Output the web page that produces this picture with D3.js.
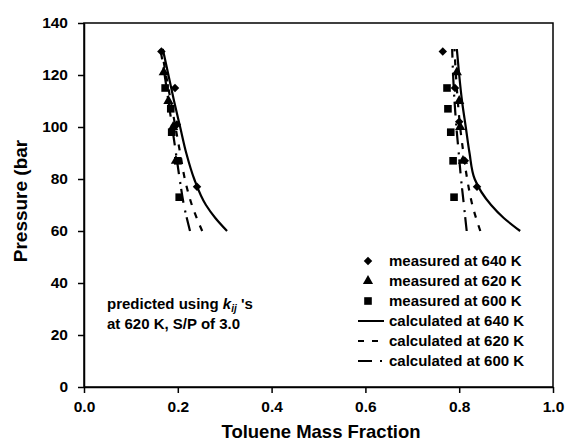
<!DOCTYPE html>
<html>
<head>
<meta charset="utf-8">
<script src="https://cdn.jsdelivr.net/npm/d3@7"></script>
<style>
  body { margin: 0; background: #fff; }
  svg { display: block; font-family: "Liberation Sans", Arial, sans-serif; font-weight: bold; }
  .axis path, .axis line { stroke: #000; stroke-width: 1.5; }
  .axis text { font-size: 15.5px; font-weight: bold; fill: #000; }
</style>
</head>
<body>
<svg id="chart"></svg>
<script>
// x ticks / y ticks
const xTicks = [0, 0.2, 0.4, 0.6, 0.8, 1.0];
const yTicks = [0, 20, 40, 60, 80, 100, 120, 140];

// measured points [mass fraction, pressure]
const meas640 = [[0.165, 129], [0.194, 115], [0.198, 101], [0.241, 77],
                 [0.765, 129], [0.791, 115], [0.800, 102], [0.812, 87], [0.838, 77]];
const meas620 = [[0.170, 121], [0.180, 110], [0.190, 100], [0.196, 87],
                 [0.795, 121], [0.800, 110], [0.802, 100], [0.808, 87]];
const meas600 = [[0.173, 115], [0.185, 107], [0.187, 98], [0.200, 87], [0.203, 73],
                 [0.774, 115], [0.776, 107], [0.782, 98], [0.787, 87], [0.789, 73]];

// calculated curves, two branches each
const calc640 = [
  [[0.168, 130], [0.180, 120], [0.192, 110], [0.205, 100], [0.218, 90], [0.235, 80], [0.260, 70], [0.280, 65], [0.305, 60]],
  [[0.795, 130], [0.800, 120], [0.806, 110], [0.814, 100], [0.822, 90], [0.833, 80], [0.868, 70], [0.895, 65], [0.930, 60]]
];
const calc620 = [
  [[0.165, 130], [0.175, 120], [0.185, 110], [0.195, 100], [0.205, 90], [0.215, 80], [0.230, 70], [0.252, 60]],
  [[0.790, 130], [0.793, 120], [0.797, 110], [0.802, 100], [0.809, 90], [0.817, 80], [0.828, 70], [0.845, 60]]
];
const calc600 = [
  [[0.163, 130], [0.172, 120], [0.180, 110], [0.188, 100], [0.196, 90], [0.204, 80], [0.213, 70], [0.226, 60]],
  [[0.785, 130], [0.787, 120], [0.790, 110], [0.794, 100], [0.799, 90], [0.804, 80], [0.810, 70], [0.816, 60]]
];

const legendItems = [
  {label: "measured at 640 K", type: "diamond"},
  {label: "measured at 620 K", type: "triangle"},
  {label: "measured at 600 K", type: "square"},
  {label: "calculated at 640 K", type: "line", dash: null},
  {label: "calculated at 620 K", type: "line", dash: "6,8"},
  {label: "calculated at 600 K", type: "line", dash: "14,8,2,20"}
];

const W = 568, H = 441;
const margin = {top: 23, left: 84};
const width = 469, height = 364;

const svg = d3.select("#chart").attr("width", W).attr("height", H);
const g = svg.append("g").attr("transform", `translate(${margin.left},${margin.top})`);

const x = d3.scaleLinear().domain([0, 1]).range([0, width]);
const y = d3.scaleLinear().domain([0, 140]).range([height, 0]);

// frame
g.append("rect")
  .attr("width", width).attr("height", height)
  .attr("fill", "none").attr("stroke", "#000").attr("stroke-width", 1.5);

g.append("g").attr("class", "axis")
  .attr("transform", `translate(0,${height})`)
  .call(d3.axisBottom(x).tickValues(xTicks).tickFormat(d3.format(".1f")).tickSize(6).tickSizeOuter(0).tickPadding(8));

g.append("g").attr("class", "axis")
  .call(d3.axisLeft(y).tickValues(yTicks).tickSize(6).tickSizeOuter(0).tickPadding(10));

g.selectAll(".axis text").attr("font-family", null);

// axis titles
svg.append("text")
  .attr("x", 321).attr("y", 438)
  .attr("text-anchor", "middle").style("font-size", "18.5px")
  .text("Toluene Mass Fraction");

svg.append("text")
  .attr("transform", "translate(27,201) rotate(-90)")
  .attr("text-anchor", "middle").style("font-size", "19px")
  .text("Pressure (bar");

// curves
const line = d3.line().x(d => x(d[0])).y(d => y(d[1])).curve(d3.curveMonotoneY);
const curves = [
  {data: calc640, dash: null},
  {data: calc620, dash: "6,8"},
  {data: calc600, dash: "14,5,2,8"}
];
curves.forEach(c => {
  c.data.forEach(branch => {
    g.append("path")
      .datum(branch.slice().sort((a, b) => a[1] - b[1]))
      .attr("d", line)
      .attr("fill", "none").attr("stroke", "#000").attr("stroke-width", 2.2)
      .attr("stroke-dasharray", c.dash);
  });
});

// markers
const sym = {
  diamond: d3.symbol().type(d3.symbolSquare).size(36),
  triangle: d3.symbol().type(d3.symbolTriangle).size(45),
  square: d3.symbol().type(d3.symbolSquare).size(58)
};
const rot = t => t === "diamond" ? " rotate(45)" : "";
[[meas600, "square"], [meas620, "triangle"], [meas640, "diamond"]].forEach(([pts, t]) => {
  g.selectAll(null).data(pts).join("path")
    .attr("transform", d => `translate(${x(d[0])},${y(d[1])})${rot(t)}`)
    .attr("d", sym[t]).attr("fill", "#000");
});

// legend
const leg = svg.append("g").attr("transform", "translate(358,261)");
legendItems.forEach((item, i) => {
  const row = leg.append("g").attr("transform", `translate(0,${i * 20})`);
  if (item.type === "line") {
    row.append("line").attr("x1", 0).attr("x2", 26).attr("y1", 0).attr("y2", 0)
      .attr("stroke", "#000").attr("stroke-width", 2)
      .attr("stroke-dasharray", item.dash);
  } else {
    row.append("path").attr("transform", `translate(10,0)${rot(item.type)}`).attr("d", sym[item.type]).attr("fill", "#000");
  }
  row.append("text").attr("x", 31).attr("y", 5)
    .style("font-size", "15px").text(item.label);
});

// annotation
const note = svg.append("text").attr("x", 107).attr("y", 309).style("font-size", "15px");
note.append("tspan").text("predicted using ");
note.append("tspan").style("font-style", "italic").text("k");
note.append("tspan").attr("dy", 3).style("font-size", "10px").style("font-style", "italic").text("ij");
note.append("tspan").attr("dy", -3).text(" 's");
svg.append("text").attr("x", 107).attr("y", 329).style("font-size", "15px")
  .text("at 620 K, S/P of 3.0");
</script>
</body>
</html>
